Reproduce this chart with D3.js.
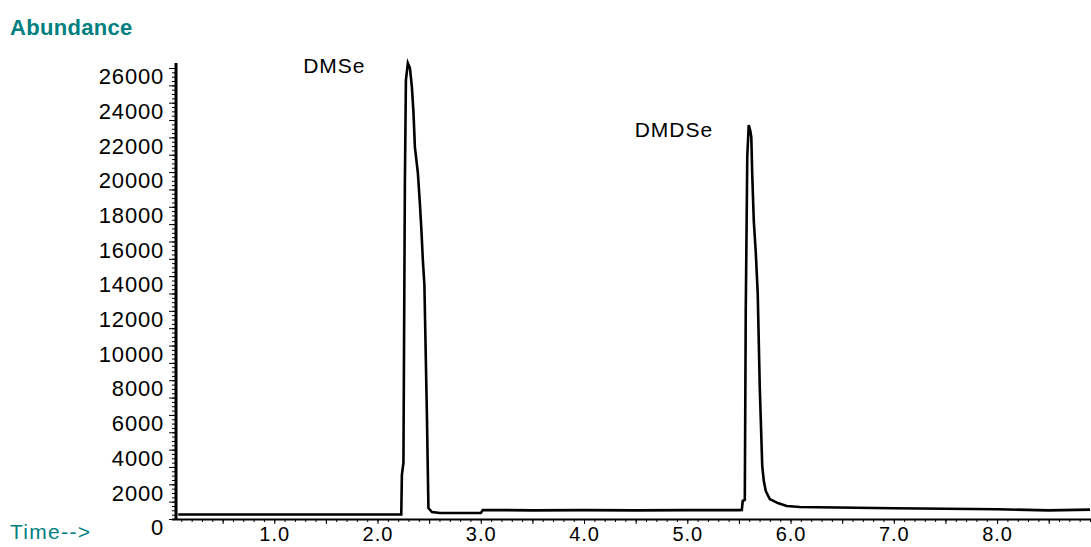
<!DOCTYPE html>
<html>
<head>
<meta charset="utf-8">
<script src="https://cdn.jsdelivr.net/npm/d3@7"></script>
<style>
  body { margin: 0; background: #fff; }
  text { font-family: "Liberation Sans", Arial, sans-serif; }
</style>
</head>
<body>
<svg width="1091" height="547"></svg>
<script>
//data (time in min, abundance in counts)
const times = [0.07, 2.23, 2.236, 2.251, 2.265, 2.275, 2.294, 2.314, 2.333, 2.348, 2.362, 2.391, 2.41, 2.425, 2.439, 2.454, 2.478, 2.493, 2.527, 2.604,
    3.0, 3.02, 3.5, 4.0, 4.5, 5.0, 5.5, 5.528, 5.537, 5.557, 5.566, 5.581, 5.595, 5.61, 5.62, 5.629, 5.644, 5.663, 5.682, 5.702, 5.726, 5.741, 5.76,
    5.799, 5.877, 5.963, 6.089, 7.0, 8.0, 8.5, 8.9];
const abundance = [260, 260, 2540, 3230, 19370, 25300, 26280, 26000, 24900, 23460, 21440, 19940, 18210, 16660, 14930, 13490, 6110, 630, 400, 350,
    350, 520, 500, 510, 500, 510, 510, 520, 1040, 1100, 11870, 20920, 22710, 22400, 22000, 19830, 17180, 15390, 13030, 7550, 3050, 2190, 1610,
    1150, 920, 750, 690, 620, 560, 500, 540];

const peakNames = ["DMSe", "DMDSe"];
const peakLabelTimes = [1.28, 4.49];
const peakLabelAbundance = [25700, 22020];

const yTickValues = [0, 2000, 4000, 6000, 8000, 10000, 12000, 14000, 16000, 18000, 20000, 22000, 24000, 26000];
const xTickValues = [1, 2, 3, 4, 5, 6, 7, 8];

const teal = "#008080";

//scales
var xScale = d3.scaleLinear()
    .domain([0, 8.9])
    .range([171, 1090]);

var yScale = d3.scaleLinear()
    .domain([0, 26000])
    .range([519, 68]);

let svg = d3.select("svg");

//axis titles
svg.append("text")
    .attr("x", 10)
    .attr("y", 35)
    .style("font-size", "22px")
    .style("font-weight", "bold")
    .style("letter-spacing", "0.3px")
    .style("fill", teal)
    .text("Abundance");

svg.append("text")
    .attr("x", 10)
    .attr("y", 539)
    .style("font-size", "21px")
    .style("letter-spacing", "1.3px")
    .style("fill", teal)
    .text("Time-->");

//y axis: minor and medium ticks
svg.append("g")
    .attr("transform", "translate(175,0)")
    .call(d3.axisLeft(yScale)
        .tickValues(d3.range(0, 26001, 250))
        .tickSize(3)
        .tickFormat(""))
    .call(g => g.select(".domain").remove());

svg.append("g")
    .attr("transform", "translate(175,0)")
    .call(d3.axisLeft(yScale)
        .tickValues(d3.range(0, 26001, 1000))
        .tickSize(6)
        .tickFormat(""))
    .call(g => g.select(".domain").remove());

//y axis labels (text hangs under the tick)
var gY = svg.append("g")
    .attr("transform", "translate(175,0)")
    .call(d3.axisLeft(yScale)
        .tickValues(yTickValues)
        .tickSize(0)
        .tickPadding(11)
        .tickFormat(d3.format("d")));
gY.select(".domain").remove();
gY.selectAll("text")
    .attr("dy", "0.716em")
    .style("font-family", "'Liberation Sans', Arial, sans-serif")
    .style("font-size", "22px")
    .style("letter-spacing", "0.8px")
    .style("fill", "#000");

svg.append("line")
    .attr("x1", 176).attr("x2", 176)
    .attr("y1", 63).attr("y2", yScale(0) + 1)
    .attr("stroke", "#000")
    .attr("stroke-width", 3);

//x axis
var gX = svg.append("g")
    .attr("transform", "translate(0,519)")
    .call(d3.axisBottom(xScale)
        .tickValues(d3.range(0.1, 8.91, 0.1))
        .tickSize(3)
        .tickFormat(""));
gX.select(".domain").remove();

svg.append("g")
    .attr("transform", "translate(0,519)")
    .call(d3.axisBottom(xScale)
        .tickValues(d3.range(0.5, 8.6, 0.5))
        .tickSize(5)
        .tickFormat(""))
    .call(g => g.select(".domain").remove());

var gXl = svg.append("g")
    .attr("transform", "translate(0,519)")
    .call(d3.axisBottom(xScale)
        .tickValues(xTickValues)
        .tickSize(0)
        .tickFormat(d3.format(".1f")));
gXl.select(".domain").remove();
gXl.selectAll("text")
    .attr("y", 22)
    .attr("dy", 0)
    .style("font-family", "'Liberation Sans', Arial, sans-serif")
    .style("font-size", "20px")
    .style("letter-spacing", "1px")
    .style("fill", "#000");

svg.append("line")
    .attr("x1", 172).attr("x2", 1091)
    .attr("y1", 519.5).attr("y2", 519.5)
    .attr("stroke", "#000")
    .attr("stroke-width", 2);

//chromatogram
var line = d3.line()
    .x((d, i) => xScale(times[i]))
    .y(d => yScale(d));

svg.append("path")
    .datum(abundance)
    .attr("d", line)
    .attr("fill", "none")
    .attr("stroke", "#000")
    .attr("stroke-width", 2.6)
    .attr("stroke-linejoin", "miter");

//peak names
svg.selectAll(".peak")
    .data(peakNames)
    .enter()
    .append("text")
    .attr("class", "peak")
    .attr("x", (d, i) => xScale(peakLabelTimes[i]))
    .attr("y", (d, i) => yScale(peakLabelAbundance[i]))
    .style("font-size", "21px")
    .style("letter-spacing", "1px")
    .style("fill", "#000")
    .text(d => d);
</script>
</body>
</html>
